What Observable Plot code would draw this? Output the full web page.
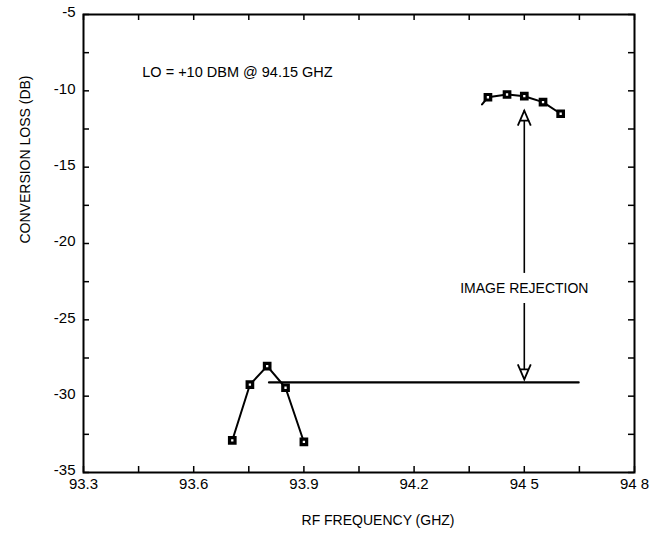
<!DOCTYPE html>
<html>
<head>
<meta charset="utf-8">
<script src="https://cdn.jsdelivr.net/npm/d3@7"></script>
<script src="https://cdn.jsdelivr.net/npm/@observablehq/plot@0.6"></script>
<style>
  html, body { margin: 0; padding: 0; background: white; }
</style>
</head>
<body>
<div id="chart"></div>
<script>
// ---- data ----
const lowFreq  = [93.705, 93.753, 93.80, 93.85, 93.90];   // GHz
const lowLoss  = [-32.9, -29.25, -28.03, -29.45, -33.0];  // dB
const highFreq = [94.401, 94.453, 94.50, 94.551, 94.599];
const highLoss = [-10.42, -10.24, -10.35, -10.74, -11.5];
const highTailFreq = [94.385];   // line continues slightly left of first marker
const highTailLoss = [-10.89];
const refLineFreq = [93.805, 94.648];
const refLineLoss = [-29.1, -29.1];
const arrowFreq = 94.5;
const arrowTop = -11.3, arrowGapTop = -21.96, arrowGapBottom = -23.93, arrowBottom = -28.9;
const xTickValues = [93.3, 93.45, 93.6, 93.75, 93.9, 94.05, 94.2, 94.35, 94.5, 94.65, 94.8];
const xLabelValues = [93.3, 93.6, 93.9, 94.2, 94.5, 94.8];
const xLabelText = ["93.3", "93.6", "93.9", "94.2", "94 5", "94 8"];
const yTickValues = [-35, -32.5, -30, -27.5, -25, -22.5, -20, -17.5, -15, -12.5, -10, -7.5, -5];
const yLabelValues = [-35, -30, -25, -20, -15, -10, -5];
const annotations = [
  {text: "LO = +10 DBM @ 94.15 GHZ", x: 93.46, y: -8.8},
  {text: "IMAGE REJECTION", x: 94.5, y: -22.94}
];

// ---- tables built from arrays ----
const low = lowFreq.map((f, i) => ({f, l: lowLoss[i]}));
const high = highFreq.map((f, i) => ({f, l: highLoss[i]}));
const highLine = highTailFreq.map((f, i) => ({f, l: highTailLoss[i]})).concat(high);
const refLine = refLineFreq.map((f, i) => ({f, l: refLineLoss[i]}));
const shafts = [
  {x: arrowFreq, y1: arrowTop, y2: arrowGapTop},
  {x: arrowFreq, y1: arrowGapBottom, y2: arrowBottom}
];

const W = 659, H = 535;
const mL = 83, mR = 25, mT = 14, mB = 63;
const frameW = W - mL - mR, frameH = H - mT - mB;

// open arrowheads ("A" shape) as custom symbols
const headUp = {draw(ctx) {
  ctx.moveTo(0, 0); ctx.lineTo(-4.3, 10); ctx.lineTo(4.3, 10); ctx.closePath();
  ctx.moveTo(-4.3, 10); ctx.lineTo(-6.5, 15);
  ctx.moveTo(4.3, 10); ctx.lineTo(6.5, 15);
}};
const headDown = {draw(ctx) {
  ctx.moveTo(0, 0); ctx.lineTo(-4.3, -10); ctx.lineTo(4.3, -10); ctx.closePath();
  ctx.moveTo(-4.3, -10); ctx.lineTo(-6.5, -15);
  ctx.moveTo(4.3, -10); ctx.lineTo(6.5, -15);
}};

const chart = Plot.plot({
  width: W, height: H,
  marginLeft: mL, marginRight: mR, marginTop: mT, marginBottom: mB,
  style: {fontFamily: "'Liberation Sans', Arial, Helvetica, sans-serif", fontSize: "14px", color: "black", background: "white"},
  x: {domain: [93.3, 94.8]},
  y: {domain: [-35, -5]},
  marks: [
    // inward ticks on all four sides
    Plot.ruleX(xTickValues, {x: d => d, insetTop: frameH - 6, stroke: "black", strokeWidth: 1.5}),
    Plot.ruleX(xTickValues, {x: d => d, insetBottom: frameH - 6, stroke: "black", strokeWidth: 1.5}),
    Plot.ruleY(yTickValues, {y: d => d, insetRight: frameW - 6, stroke: "black", strokeWidth: 1.5}),
    Plot.ruleY(yTickValues, {y: d => d, insetLeft: frameW - 6, stroke: "black", strokeWidth: 1.5}),
    // tick labels
    Plot.axisX({ticks: xLabelValues, tickSize: 0, tickPadding: 6, fontSize: 15, label: null,
      tickFormat: d => xLabelText[xLabelValues.findIndex(v => Math.abs(v - d) < 1e-6)]}),
    Plot.axisY({ticks: yLabelValues, tickSize: 0, tickPadding: 8, fontSize: 15, label: null, dy: -2,
      tickFormat: d => String(d)}),
    // axis titles
    Plot.text(["CONVERSION LOSS (DB)"], {frameAnchor: "left", rotate: -90, dx: -58, fontSize: 14, lineAnchor: "middle"}),
    Plot.text(["RF FREQUENCY (GHZ)"], {frameAnchor: "bottom", dx: 19, dy: 48, fontSize: 14, lineAnchor: "middle"}),
    // reference level line
    Plot.line(refLine, {x: "f", y: "l", stroke: "black", strokeWidth: 2.2}),
    // data
    Plot.line(low, {x: "f", y: "l", stroke: "black", strokeWidth: 2}),
    Plot.line(highLine, {x: "f", y: "l", stroke: "black", strokeWidth: 2}),
    Plot.dot(low, {x: "f", y: "l", symbol: "square", r: 3.1, fill: "white", stroke: "black", strokeWidth: 3.2}),
    Plot.dot(high, {x: "f", y: "l", symbol: "square", r: 3.1, fill: "white", stroke: "black", strokeWidth: 3.2}),
    // image rejection arrow
    Plot.ruleX(shafts, {x: "x", y1: "y1", y2: "y2", stroke: "black", strokeWidth: 1.6}),
    Plot.dot([{x: arrowFreq, y: arrowTop}], {x: "x", y: "y", symbol: headUp, fill: "white", stroke: "black", strokeWidth: 1.8}),
    Plot.dot([{x: arrowFreq, y: arrowBottom}], {x: "x", y: "y", symbol: headDown, fill: "white", stroke: "black", strokeWidth: 1.8}),
    // annotations
    Plot.text(annotations.slice(0, 1), {x: "x", y: "y", text: "text", textAnchor: "start", fontSize: 14.5}),
    Plot.text(annotations.slice(1), {x: "x", y: "y", text: "text", textAnchor: "middle", fontSize: 14}),
    Plot.frame({stroke: "black", strokeWidth: 2})
  ]
});
document.getElementById("chart").appendChild(chart);
</script>
</body>
</html>
